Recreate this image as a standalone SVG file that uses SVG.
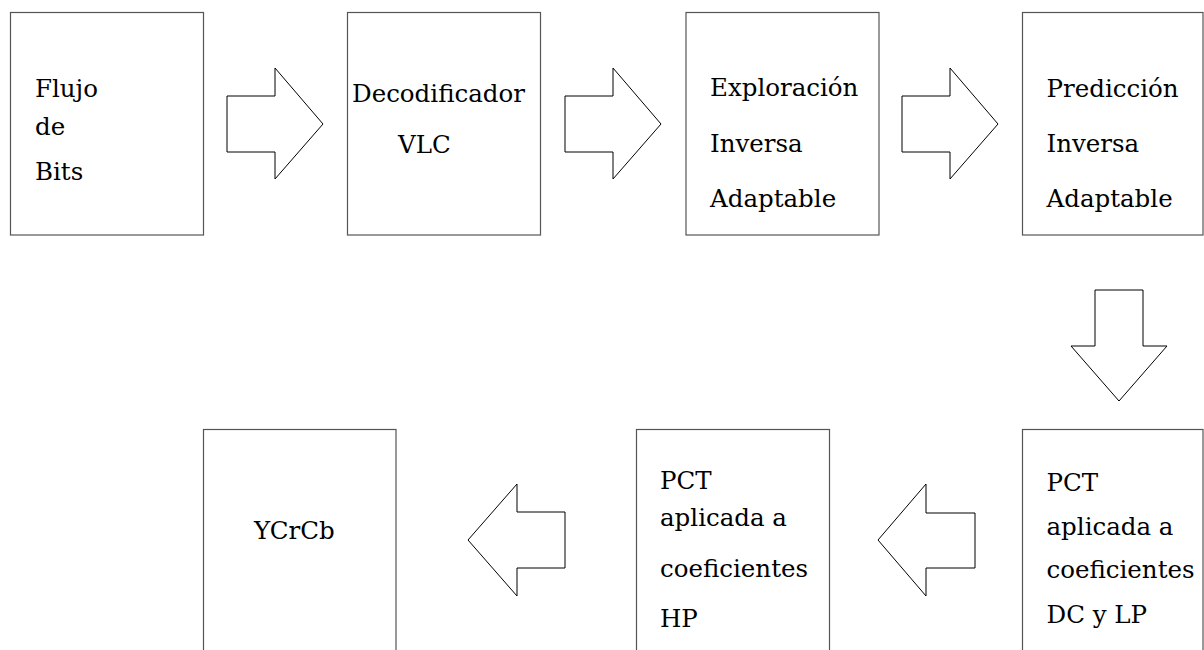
<svg xmlns="http://www.w3.org/2000/svg" width="1204" height="650" viewBox="0 0 1204 650">
<style>
.box{fill:#fff;stroke:#555;stroke-width:1.2}
.arr{fill:#fff;stroke:#000;stroke-width:1}
.t{font-family:'DejaVu Serif','Liberation Serif',serif;font-size:24.5px;fill:#000}
</style>
<rect width="1204" height="650" fill="#fff"/>
<g id="connectors">
<polygon class="arr" points="227,96 275,96 275,68 323,124 275,179 275,152 227,152"/>
<polygon class="arr" points="565,96 613,96 613,68 661,124 613,179 613,152 565,152"/>
<polygon class="arr" points="902,96 950,96 950,68 998,124 950,179 950,152 902,152"/>
<polygon class="arr" points="1095,290 1143,290 1143,346 1167,346 1119,401 1071,346 1095,346"/>
<polygon class="arr" points="975,513 926,513 926,484 878,540 926,596 926,568 975,568"/>
<polygon class="arr" points="565,512 517,512 517,484 468,540 517,596 517,568 565,568"/>
</g>
<g id="n1">
<rect class="box" x="10.5" y="12.5" width="193" height="222.5"/>
<text class="t" x="35" y="97">Flujo</text>
<text class="t" x="35" y="135">de</text>
<text class="t" x="35" y="180">Bits</text>
</g>
<g id="n2">
<rect class="box" x="347.5" y="12.5" width="193" height="222.5"/>
<text class="t" x="352" y="102">Decodificador</text>
<text class="t" x="398" y="153">VLC</text>
</g>
<g id="n3">
<rect class="box" x="686" y="12.5" width="193" height="222.5"/>
<text class="t" x="710" y="96">Exploración</text>
<text class="t" x="710" y="152">Inversa</text>
<text class="t" x="710" y="207">Adaptable</text>
</g>
<g id="n4">
<rect class="box" x="1022.5" y="12.5" width="180.5" height="222.5"/>
<text class="t" x="1046.5" y="97">Predicción</text>
<text class="t" x="1046.5" y="152">Inversa</text>
<text class="t" x="1046.5" y="207">Adaptable</text>
</g>
<g id="n5">
<rect class="box" x="1022.5" y="429.5" width="180.5" height="230"/>
<text class="t" x="1046.5" y="491">PCT</text>
<text class="t" x="1046.5" y="535">aplicada a</text>
<text class="t" x="1046.5" y="578">coeficientes</text>
<text class="t" x="1046.5" y="623">DC y LP</text>
</g>
<g id="n6">
<rect class="box" x="636.5" y="429.5" width="193" height="230"/>
<text class="t" x="660" y="489">PCT</text>
<text class="t" x="660" y="526">aplicada a</text>
<text class="t" x="660" y="577">coeficientes</text>
<text class="t" x="660" y="627">HP</text>
</g>
<g id="n7">
<rect class="box" x="203.5" y="429.5" width="192.5" height="230"/>
<text class="t" x="254" y="539">YCrCb</text>
</g>
</svg>
